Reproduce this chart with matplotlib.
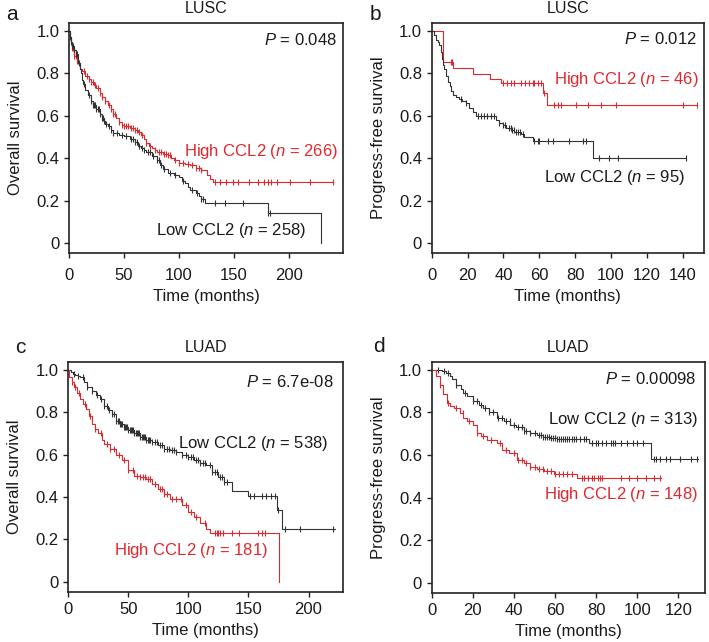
import numpy as np
import matplotlib
matplotlib.use("Agg")
import matplotlib.pyplot as plt

plt.rcParams['font.family'] = ['Liberation Sans', 'DejaVu Sans']
plt.rcParams['mathtext.fontset'] = 'custom'
plt.rcParams['mathtext.it'] = 'Liberation Sans:italic'
plt.rcParams['mathtext.rm'] = 'Liberation Sans'

RED = '#e0282e'
BLACK = '#333333'
TXT = '#1a1a1a'

# ---- panel a: LUSC overall survival ----
a_high_t = [0, 1, 2, 3, 5, 7, 9, 10, 12, 15, 18, 20, 23, 25, 28, 30, 33, 35, 38, 40, 43, 45, 48, 50,
            55, 60, 63, 65, 68, 70, 73, 75, 78, 80, 85, 90, 93, 95, 100, 105, 110, 115, 120, 125, 128, 131, 240]
a_high_s = [1.0, 0.97, 0.94, 0.92, 0.88, 0.86, 0.84, 0.82, 0.81, 0.79, 0.775, 0.76, 0.745, 0.73, 0.71, 0.69,
            0.67, 0.65, 0.63, 0.61, 0.59, 0.57, 0.555, 0.55, 0.545, 0.535, 0.525, 0.51, 0.49, 0.47, 0.46, 0.45,
            0.44, 0.43, 0.42, 0.415, 0.40, 0.39, 0.376, 0.372, 0.368, 0.355, 0.344, 0.32, 0.30, 0.289, 0.289]
a_high_c = [3, 4, 5, 6, 7, 8, 14, 16, 18, 20, 22, 24, 26, 28, 30, 33, 36, 38, 40, 42, 45, 48, 50, 52, 54,
            56, 58, 60, 62, 64, 66, 70, 74, 78, 82, 84, 86, 88, 90, 92, 96, 100, 104, 108, 112, 115, 118, 120,
            133, 137, 143, 149, 154, 164, 172, 177, 181, 184, 189, 201, 219, 240]
a_low_t = [0, 1, 2, 3, 5, 6, 8, 10, 11, 12, 13, 15, 17, 20, 22, 25, 28, 30, 32, 33, 35, 38, 40, 45, 50, 55,
           60, 63, 65, 68, 70, 75, 80, 83, 85, 90, 95, 100, 103, 105, 108, 110, 115, 118, 120, 124, 181, 229]
a_low_s = [1.0, 0.97, 0.95, 0.93, 0.91, 0.89, 0.85, 0.82, 0.80, 0.77, 0.75, 0.72, 0.70, 0.67, 0.65, 0.63,
           0.61, 0.59, 0.575, 0.56, 0.55, 0.535, 0.52, 0.51, 0.505, 0.49, 0.475, 0.46, 0.45, 0.44, 0.43, 0.41,
           0.39, 0.37, 0.35, 0.33, 0.32, 0.31, 0.295, 0.284, 0.265, 0.25, 0.235, 0.22, 0.21, 0.19, 0.14, 0.0]
a_low_c = [1, 2, 3, 4, 5, 6, 7, 9, 14, 18, 20, 22, 23, 24, 25, 26, 27, 28, 30, 31, 32, 34, 36, 38, 40, 44,
           48, 52, 56, 58, 60, 62, 64, 66, 68, 72, 74, 76, 80, 82, 84, 86, 92, 96, 104, 112, 116, 120, 122,
           133, 142, 158, 181, 183]

# ---- panel b: LUSC progress-free survival ----
b_high_t = [0, 6.5, 11.7, 22.9, 32.7, 38.7, 61.9, 64.3, 148]
b_high_s = [1.0, 0.856, 0.825, 0.798, 0.775, 0.755, 0.708, 0.653, 0.653]
b_high_c = [10.5, 11.3, 39.6, 42, 44, 46, 50, 52, 54.5, 56.3, 57.2, 59.1, 60.9, 62.8, 68.4, 70.2, 72.1,
            80.5, 87, 94.4, 102.8, 140, 148]
b_low_t = [0, 1.5, 2.5, 3.5, 4.3, 5, 5.6, 6.1, 7, 8, 9, 10, 10.8, 12, 13.6, 15.4, 17, 19.1, 21, 23, 24.7,
           35.9, 37.7, 39.6, 41.4, 44.2, 46.1, 49.8, 51.7, 56.3, 90, 142]
b_low_s = [1.0, 0.98, 0.96, 0.95, 0.934, 0.90, 0.87, 0.84, 0.82, 0.79, 0.76, 0.74, 0.716, 0.70, 0.69,
           0.68, 0.67, 0.66, 0.635, 0.62, 0.60, 0.58, 0.565, 0.555, 0.545, 0.535, 0.525, 0.515, 0.50, 0.48,
           0.40, 0.40]
b_low_c = [16.4, 19.3, 25.6, 27.5, 29.4, 31.1, 33.1, 35, 37.7, 39.6, 41, 43, 44, 45, 46, 47, 48, 49, 51,
           57.3, 59.1, 60.1, 64.7, 67.5, 76.7, 84.2, 86.1, 93.5, 99.1, 103.7, 141.9]

# ---- panel c: LUAD overall survival ----
c_low_t = [0, 2, 4, 6, 8, 10, 13, 16, 20, 23, 26, 30, 33, 36, 40, 43, 46, 50, 55, 60, 65, 70, 75, 80, 85,
           90, 95, 100, 105, 110, 115, 120, 125, 130, 136, 150, 173.6, 177.8, 222]
c_low_s = [1.0, 0.99, 0.98, 0.975, 0.97, 0.965, 0.94, 0.92, 0.90, 0.88, 0.86, 0.83, 0.81, 0.79, 0.76,
           0.745, 0.73, 0.714, 0.70, 0.683, 0.67, 0.66, 0.645, 0.628, 0.62, 0.612, 0.60, 0.589, 0.575, 0.56,
           0.55, 0.52, 0.495, 0.47, 0.43, 0.405, 0.338, 0.248, 0.248]
c_low_c = [5, 8, 12, 16, 20, 24, 27, 30, 32, 34, 36, 38, 40, 41, 42, 43, 44, 45, 46, 47, 48, 49, 50, 51,
           52, 53, 54, 55, 56, 57, 58, 59, 60, 61, 62, 63, 64, 65, 66, 67, 68, 70, 72, 74, 76, 78, 80, 82,
           84, 86, 88, 90, 95, 98, 100, 102, 104, 106, 108, 110, 112, 114, 118, 120, 122, 124, 126, 128,
           130, 132, 151, 155, 161, 165, 169, 172, 175, 180, 193, 220]
c_high_t = [0, 1, 3, 5, 7, 10, 12, 15, 17, 20, 22, 25, 28, 30, 35, 40, 45, 50, 55, 60, 65, 70, 75, 80, 85,
            95, 100, 105, 110, 115, 118, 175.7]
c_high_s = [1.0, 0.965, 0.94, 0.92, 0.89, 0.863, 0.84, 0.816, 0.78, 0.746, 0.72, 0.70, 0.67, 0.65, 0.628,
            0.597, 0.573, 0.526, 0.50, 0.496, 0.485, 0.46, 0.438, 0.414, 0.39, 0.36, 0.33, 0.306, 0.275,
            0.25, 0.232, 0.0]
c_high_c = [3, 6, 9, 14, 18, 22, 27, 32, 35, 38, 42, 46, 50, 54, 57, 60, 62, 64, 66, 68, 72, 76, 78, 80,
            82, 86, 90, 94, 98, 102, 106, 114, 122, 124, 125, 126, 129, 136, 142, 158, 161, 164]

# ---- panel d: LUAD progress-free survival ----
d_low_t = [0, 5, 7, 9, 10, 12, 14, 15, 17, 20, 23, 25, 28, 31.7, 35, 38.2, 41, 44.7, 48, 51.2, 54, 57.7,
           61, 76.4, 106.5, 129.5]
d_low_s = [1.0, 0.993, 0.985, 0.97, 0.956, 0.93, 0.91, 0.89, 0.875, 0.852, 0.835, 0.821, 0.80, 0.774,
           0.76, 0.743, 0.73, 0.712, 0.703, 0.696, 0.685, 0.68, 0.675, 0.655, 0.58, 0.58]
d_low_c = [3, 6, 8, 12, 16, 20, 22, 24, 26, 28, 30, 32, 34, 36, 38, 40, 42, 44, 45, 46, 48, 50, 52, 53,
           54, 55, 56, 57, 58, 59, 60, 61, 62, 63, 64, 65, 66, 67, 68, 69, 70, 72, 74, 75, 78, 80, 81, 83,
           85, 87, 88, 89, 92, 95, 98, 100, 103, 108, 109, 111, 114, 116, 121, 126, 129]
d_high_t = [0, 2, 4, 5.7, 7.3, 9, 10.6, 13.8, 15.4, 17, 20.3, 21.9, 24, 26.8, 31.7, 34.1, 37.4, 41.4,
            44.7, 47.9, 51, 54.4, 59.3, 70.7, 111.4]
d_high_s = [1.0, 0.97, 0.93, 0.884, 0.845, 0.83, 0.821, 0.798, 0.774, 0.76, 0.743, 0.703, 0.69, 0.672,
            0.656, 0.625, 0.61, 0.578, 0.562, 0.542, 0.535, 0.526, 0.51, 0.49, 0.49]
d_high_c = [4, 8, 12, 15, 18, 22, 25, 29, 33, 36, 40, 42, 44, 46, 48, 50, 52, 54, 56, 58, 60, 62, 64, 66,
            68, 73, 74, 76, 78, 79, 81, 82, 83, 92, 96, 100, 104, 108, 111]

panels = [
    dict(letter='a', title='LUSC', ylabel='Overall survival', xmax=249, xticks=[0, 50, 100, 150, 200],
         curves=[(a_high_t, a_high_s, a_high_c, RED), (a_low_t, a_low_s, a_low_c, BLACK)],
         p='0.048', pxy=(0.978, 0.926),
         labels=[('High CCL2', '266', RED, 0.98, 0.43), ('Low CCL2', '258', TXT, 0.865, 0.061)],
         rect=[0.0973, 0.6059, 0.3865, 0.3583], lxy=(0.008, 0.977), xpad=7),
    dict(letter='b', title='LUSC', ylabel='Progress-free survival', xmax=152,
         xticks=[0, 20, 40, 60, 80, 100, 120, 140],
         curves=[(b_high_t, b_high_s, b_high_c, RED), (b_low_t, b_low_s, b_low_c, BLACK)],
         p='0.012', pxy=(0.973, 0.93),
         labels=[('High CCL2', '46', RED, 0.979, 0.77), ('Low CCL2', '95', TXT, 0.93, 0.309)],
         rect=[0.609, 0.6059, 0.384, 0.3583], lxy=(0.522, 0.977), xpad=7),
    dict(letter='c', title='LUAD', ylabel='Overall survival', xmax=229, xticks=[0, 50, 100, 150, 200],
         curves=[(c_low_t, c_low_s, c_low_c, BLACK), (c_high_t, c_high_s, c_high_c, RED)],
         p='6.7e-08', pxy=(0.964, 0.913),
         labels=[('Low CCL2', '538', TXT, 0.945, 0.652), ('High CCL2', '181', RED, 0.727, 0.149)],
         rect=[0.0963, 0.0783, 0.388, 0.3583], lxy=(0.022, 0.458), xpad=4),
    dict(letter='d', title='LUAD', ylabel='Progress-free survival', xmax=133,
         xticks=[0, 20, 40, 60, 80, 100, 120],
         curves=[(d_low_t, d_low_s, d_low_c, BLACK), (d_high_t, d_high_s, d_high_c, RED)],
         p='0.00098', pxy=(0.970, 0.924),
         labels=[('Low CCL2', '313', TXT, 0.975, 0.768), ('High CCL2', '148', RED, 0.975, 0.415)],
         rect=[0.609, 0.0768, 0.3855, 0.3598], lxy=(0.526, 0.46), xpad=4),
]

fig = plt.figure(figsize=(7.09, 6.42), dpi=100)

for pn in panels:
    ax = fig.add_axes(pn['rect'])
    for t, s, c, col in pn['curves']:
        t = np.array(t, dtype=float)
        s = np.array(s, dtype=float)
        ax.step(t, s, where='post', color=col, lw=0.8)
        c = np.array(c, dtype=float)
        idx = np.searchsorted(t, c, side='right') - 1
        ax.plot(c, s[idx], ls='none', marker='|', ms=5, mew=0.8, color=col)
    ax.set_xlim(0, pn['xmax'])
    ax.set_ylim(-0.047, 1.038)
    ax.set_xticks(pn['xticks'])
    ax.set_yticks([0, 0.2, 0.4, 0.6, 0.8, 1.0])
    ax.set_yticklabels(['0', '0.2', '0.4', '0.6', '0.8', '1.0'])
    ax.tick_params(direction='out', length=3.5, width=1.0, labelsize=12, color='#222222',
                   labelcolor=TXT)
    ax.tick_params(axis='x', pad=pn['xpad'])
    ax.tick_params(axis='y', pad=3.5)
    for sp in ax.spines.values():
        sp.set_linewidth(1.2)
        sp.set_color('#222222')
    ax.set_xlabel('Time (months)', fontsize=12, labelpad=4.5, color=TXT)
    ax.set_ylabel(pn['ylabel'], fontsize=12, labelpad=9.5, color=TXT)
    ax.set_title(pn['title'], fontsize=11.5, pad=7, color=TXT)
    ax.text(pn['pxy'][0], pn['pxy'][1], '$\\it{P}$ = ' + pn['p'], transform=ax.transAxes,
            ha='right', va='center', fontsize=12, color=TXT)
    for name, n, col, x, y in pn['labels']:
        ax.text(x, y, name + ' ($\\it{n}$ = ' + n + ')', transform=ax.get_yaxis_transform(),
                ha='right', va='center', fontsize=12, color=col)
    fig.text(pn['lxy'][0], pn['lxy'][1], pn['letter'], fontsize=15, ha='left', va='center', color=TXT)

fig.savefig('out.png', dpi=100)
